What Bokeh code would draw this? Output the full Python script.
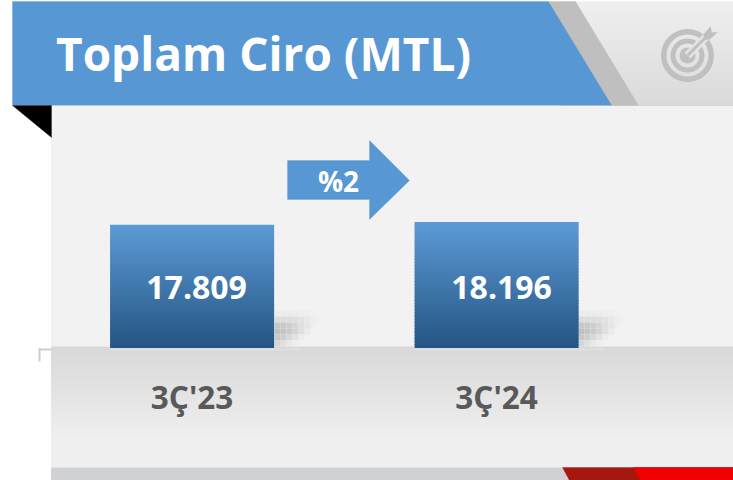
from bokeh.plotting import figure
from bokeh.models import Range1d
from bokeh.core.properties import value
from bokeh.embed import file_html
from bokeh.resources import INLINE

categories = ["3Ç'23", "3Ç'24"]
ciro = [17809, 18196]
value_labels = ["17.809", "18.196"]
title_text = "Toplam Ciro (MTL)"
growth_label = "%2"

W, H = 733, 480
BASE_PX = 347.6
UNITS_PER_PX = 18196 / 126.0
CAT_STEP = 304.5
CAT_0 = 191.6
BAR_W = 164.0 / CAT_STEP
FONT = value("Open Sans")
BLUE = "#5797d4"

p = figure(width=W, height=H, output_backend="svg", toolbar_location=None,
           x_range=Range1d(-CAT_0 / CAT_STEP, (W - CAT_0) / CAT_STEP),
           y_range=Range1d(-(H - BASE_PX) * UNITS_PER_PX, BASE_PX * UNITS_PER_PX),
           min_border=0, min_border_left=0, min_border_right=0, min_border_top=0, min_border_bottom=0,
           outline_line_color=None, background_fill_color="white", border_fill_color="white")
p.styles = {"position": "absolute", "left": "0px", "top": "0px"}
p.extra_x_ranges["px"] = Range1d(0, W)
p.extra_y_ranges["px"] = Range1d(H, 0)
p.grid.visible = False
p.axis.visible = False


def poly(xs, ys, color, alpha=1.0):
    p.patch(xs, ys, fill_color=color, fill_alpha=alpha, line_color=color, line_width=0.3,
            x_range_name="px", y_range_name="px")


def hex_mix(c1, c2, t):
    a = [int(c1[i:i + 2], 16) for i in (1, 3, 5)]
    b = [int(c2[i:i + 2], 16) for i in (1, 3, 5)]
    return "#%02x%02x%02x" % tuple(round(x + (y - x) * t) for x, y in zip(a, b))


def band(left, right, top, bottom, color):
    p.quad(left=[left], right=[right], top=[top], bottom=[bottom], fill_color=color,
           line_color=None, x_range_name="px", y_range_name="px")


# page body
band(50.6, W, 104.6, H, "#f2f2f2")

# grey floor with vertical gradient
for y in range(346, 467):
    t = min(1.0, (y - 346) / 95.0)
    band(50.6, W, y, y + 1.4, hex_mix("#d8d8d8", "#f0f0f0", t))

# bottom strip
band(50.6, W, 467, H, "#d0d1d3")
poly([562, W, W, 569], [467, 467, H, H], "#a5170f")
poly([633, W, W, 640], [467, 467, H, H], "#f00000")

# small corner mark
band(38, 51, 348, 350, "#cdcdcd")
band(38, 40, 348, 361, "#cdcdcd")

# header right panel with gradient
for y in range(1, 105):
    t = (y - 1) / 103.0
    band(560, W, y, y + 1.4, hex_mix("#efefef", "#dadada", t))
poly([548, 575, 638, 611], [1, 1, 105, 105], "#bfbfbf")
poly([12, 548, 611, 12], [1, 1, 104.7, 104.7], BLUE)
poly([12, 51, 51], [105, 105, 137], "#000000")

# target icon
ICON = "#c0c0c0"
PANEL = "#e4e4e4"
p.annulus(x=[687], y=[55], inner_radius=21, outer_radius=26.5, fill_color=ICON, line_color=None,
          x_range_name="px", y_range_name="px")
p.annulus(x=[687], y=[55], inner_radius=12, outer_radius=17, fill_color=ICON, line_color=None,
          x_range_name="px", y_range_name="px")
p.circle(x=[687], y=[55], radius=8, fill_color=ICON, line_color=None,
         x_range_name="px", y_range_name="px")
p.line([687, 712], [55, 30], line_color=PANEL, line_width=8, x_range_name="px", y_range_name="px")
p.line([687, 708], [55, 34], line_color=ICON, line_width=3, x_range_name="px", y_range_name="px")
poly([703, 710, 711, 717, 709, 704], [34, 26, 32, 32, 39, 39], ICON)

# bar shadows
shadow_rows = [
    (310, ["#ececec", "#ececec", "#ececec", "#ededed", "#eeeeee", "#efefef", "#f0f0f0"]),
    (316, ["#dcdcdc", "#dcdcdc", "#dcdcdc", "#dedede", "#e2e2e2", "#e8e8e8", "#ececec", "#f0f0f0"]),
    (322, ["#c8c8c8", "#c8c8c8", "#cecece", "#d6d6d6", "#dfdfdf", "#e6e6e6", "#eeeeee"]),
    (328, ["#c0c0c0", "#c4c4c4", "#cacaca", "#d4d4d4", "#e0e0e0", "#eaeaea"]),
    (334, ["#c8c8c8", "#cecece", "#d8d8d8", "#e2e2e2", "#ececec"]),
    (340, ["#d6d6d6", "#e0e0e0", "#e8e8e8", "#eeeeee"]),
]
for off in (0, 304):
    for ytop, cols in shadow_rows:
        for i, c in enumerate(cols):
            band(274 + off + 6 * i, 280 + off + 6 * i, ytop, ytop + 6, c)
    band(110 + off, 300 + off, 348, 350, "#e0e0e0")

# bars, drawn from the data as stacked gradient slices
N = 40
TOP_C, BOT_C = "#5b9bd5", "#255484"
for i, v in enumerate(ciro):
    for k in range(N):
        f0, f1 = k / N, (k + 1) / N
        col = hex_mix(TOP_C, BOT_C, (1 - (f0 + f1) / 2))
        p.quad(left=[i - BAR_W / 2], right=[i + BAR_W / 2], bottom=[v * f0],
               top=[v * min(1.0, f1 + 0.008)], fill_color=col, line_color=None)

p.text(x=[0, 1], y=[287] * 2, text=value_labels, text_font=FONT, text_font_style="bold",
       text_font_size="32px", text_color="white", text_align="center", text_baseline="middle",
       x_offset=[4.5, 5], y_range_name="px")
p.text(x=[0, 1], y=[395.5] * 2, text=categories, text_font=FONT, text_font_style="bold",
       text_font_size="31.5px", text_color="#595959", text_align="center", text_baseline="middle",
       y_range_name="px")

# growth arrow
poly([287, 369, 369, 409, 369, 369, 287], [160, 160, 140, 180, 219, 199, 199], BLUE)
p.text(x=[338], y=[180], text=[growth_label], text_font=FONT, text_font_style="bold",
       text_font_size="28px", text_color="white", text_align="center", text_baseline="middle",
       x_range_name="px", y_range_name="px")

# title
p.text(x=[55.5], y=[52.5], text=[title_text], text_font=FONT, text_font_style="bold",
       text_font_size="46px", text_color="white", text_align="left", text_baseline="middle",
       x_range_name="px", y_range_name="px")

open("out.html", "w").write(file_html(p, INLINE))
